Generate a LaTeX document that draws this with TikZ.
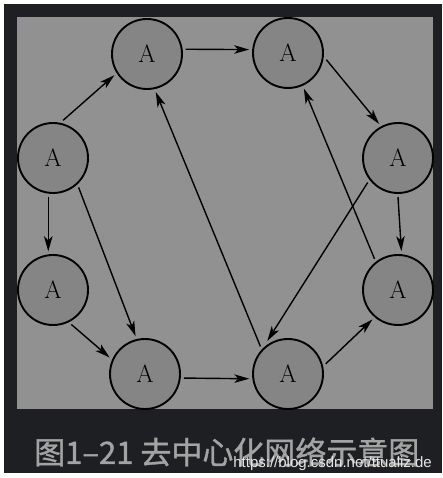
\documentclass[tikz,border=0pt]{standalone}
\usepackage{fontspec}
\usetikzlibrary{positioning,arrows.meta}
\newfontfamily\cjk[FakeBold=1.2]{Noto Sans CJK SC}
\newfontfamily\urlfont{Liberation Sans}
\definecolor{bgdark}{HTML}{1E1F22}
\definecolor{panelgray}{HTML}{919191}
\definecolor{nodegray}{HTML}{858585}
\definecolor{captiongray}{HTML}{A3A3A3}

\tikzstyle{arrow} = [line width=1.4pt,-{Stealth[length=15pt,width=8.5pt,inset=4pt]}]
\tikzstyle{peer} = [circle,draw=black,line width=1.9pt,fill=nodegray,minimum size=70pt,inner sep=0pt,outer sep=4pt,font=\fontsize{25}{25}\selectfont]

\begin{document}
\begin{tikzpicture}[x=1pt,y=1pt,node distance=132pt]
\useasboundingbox (0,0) rectangle (442,478);
\fill[white] (0,0) rectangle (442,478);
\fill[bgdark] (4,5) rectangle (442,474);
\fill[panelgray] (17,69) rectangle (433,461);

\node (1) [peer] at (53,320) {A};
\node (8) [peer, below of=1] {A};
\node (2) [peer, right of=1, xshift=-38pt, yshift=104pt] {A};
\node (3) [peer, right of=2, xshift=9pt, yshift=1pt] {A};
\node (4) [peer, right of=3, xshift=-22pt, yshift=-105pt] {A};
\node (5) [peer, below of=4] {A};
\node (7) [peer, right of=8, xshift=-40pt, yshift=-84pt] {A};
\node (6) [peer, right of=7, xshift=11pt] {A};

\draw [arrow] (1.75) -- (2.213);
\draw [arrow] (2.7) -- (3.175);
\draw [arrow] (3.-10) -- (4.119);
\draw [arrow] (4.270) -- (5.85);
\draw [arrow] (5.127) -- (3.294);
\draw [arrow] (4.219) -- (6.122);
\draw [arrow] (6.135) -- (2.283);
\draw [arrow] (6.15) -- (5.229);
\draw [arrow] (7.354) -- (6.187);
\draw [arrow] (8.-62) -- (7.155);
\draw [arrow] (1.263) -- (8.97);
\draw [arrow] (1.-49) -- (7.104);

\node (caption) [anchor=base west, inner sep=0pt, text=captiongray, font=\cjk\fontsize{31}{31}\selectfont] at (34,14) {图1–21 去中心化网络示意图};
\node (url) [anchor=base east, inner sep=0pt, text=white!80!gray, font=\urlfont\fontsize{15}{15}\selectfont] at (432,10) {https://blog.csdn.net/ttualiz.de};

\end{tikzpicture}
\end{document}
